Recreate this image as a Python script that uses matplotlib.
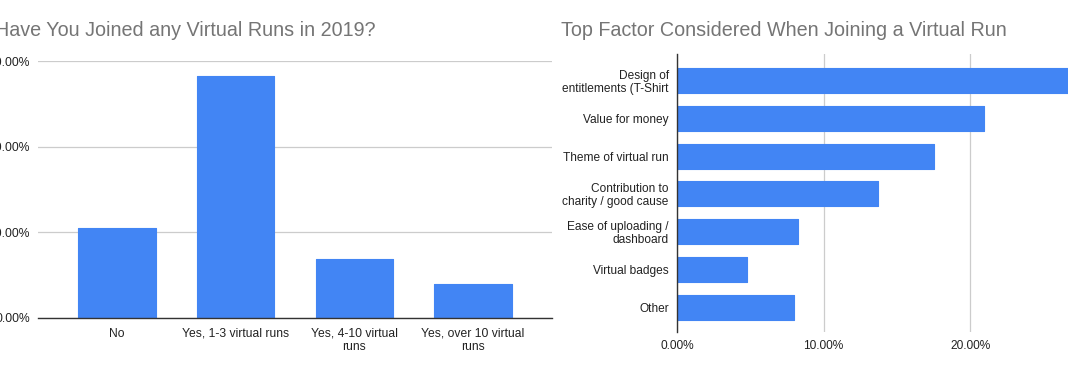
import matplotlib.pyplot as plt
from matplotlib.ticker import FuncFormatter

plt.rcParams['font.family'] = ['Liberation Sans', 'DejaVu Sans']

# left chart data
join_cats = ['No', 'Yes, 1-3 virtual runs', 'Yes, 4-10 virtual\nruns', 'Yes, over 10 virtual\nruns']
join_vals = [21.0, 56.5, 13.8, 7.9]

# right chart data
factor_cats = ['Design of\nentitlements (T-Shirt', 'Value for money', 'Theme of virtual run',
               'Contribution to\ncharity / good cause', 'Ease of uploading /\ndashboard',
               'Virtual badges', 'Other']
factor_vals = [27.2, 20.9, 17.5, 13.7, 8.25, 4.8, 8.0]

BLUE = '#4285F4'
GRID = '#cccccc'
AXIS = '#333333'
TITLE = '#757575'
TICK = '#222222'

pct = FuncFormatter(lambda v, p: '%.2f%%' % v)

fig = plt.figure(figsize=(10.68, 3.71), dpi=100)

# ---- left: vertical bars
ax1 = fig.add_axes([38 / 1068, 53 / 371, 514 / 1068, 257 / 371])
ax1.bar(range(len(join_cats)), join_vals, width=0.65, color=BLUE,
        edgecolor=BLUE, linewidth=0.8, joinstyle='round', zorder=3)
ax1.set_xlim(-0.666, 3.666)
ax1.set_ylim(0, 60)
ax1.set_yticks([0, 20, 40, 60])
ax1.yaxis.set_major_formatter(pct)
ax1.set_xticks(range(len(join_cats)))
ax1.set_xticklabels(join_cats, fontsize=8.7, color=TICK, linespacing=1.1, va='top')
ax1.tick_params(axis='both', length=0, labelsize=8.7, colors=TICK)
ax1.tick_params(axis='x', pad=7)
ax1.tick_params(axis='y', pad=6)
ax1.grid(axis='y', color=GRID, linewidth=0.9, zorder=0)
for s in ['top', 'right', 'left']:
    ax1.spines[s].set_visible(False)
ax1.spines['bottom'].set_color(AXIS)
ax1.spines['bottom'].set_linewidth(1.0)
ax1.spines['bottom'].set_zorder(4)
fig.text(-5 / 1068, 1 - 31 / 371, 'Have You Joined any Virtual Runs in 2019?',
         fontsize=14.2, color=TITLE, ha='left', va='center')

# ---- right: horizontal bars
ax2 = fig.add_axes([677 / 1068, (371 - 332) / 371, 440 / 1068, 278 / 371])
ax2.barh(range(len(factor_cats)), factor_vals, height=0.66, color=BLUE,
         edgecolor=BLUE, linewidth=0.8, joinstyle='round', zorder=3)
ax2.set_ylim(6.65, -0.7)
ax2.set_xlim(0, 30)
ax2.set_xticks([0, 10, 20, 30])
ax2.xaxis.set_major_formatter(pct)
ax2.set_yticks(range(len(factor_cats)))
ax2.set_yticklabels(factor_cats, fontsize=8.6, color=TICK, linespacing=1.1)
ax2.tick_params(axis='both', length=0, labelsize=8.6, colors=TICK)
ax2.tick_params(axis='y', pad=6)
ax2.tick_params(axis='x', pad=6)
ax2.grid(axis='x', color=GRID, linewidth=0.9, zorder=0)
for s in ['top', 'right', 'bottom']:
    ax2.spines[s].set_visible(False)
ax2.spines['left'].set_color(AXIS)
ax2.spines['left'].set_linewidth(1.0)
ax2.spines['left'].set_zorder(4)
fig.text(561 / 1068, 1 - 31 / 371, 'Top Factor Considered When Joining a Virtual Run',
         fontsize=14.2, color=TITLE, ha='left', va='center')

fig.savefig('out.png', dpi=100)
